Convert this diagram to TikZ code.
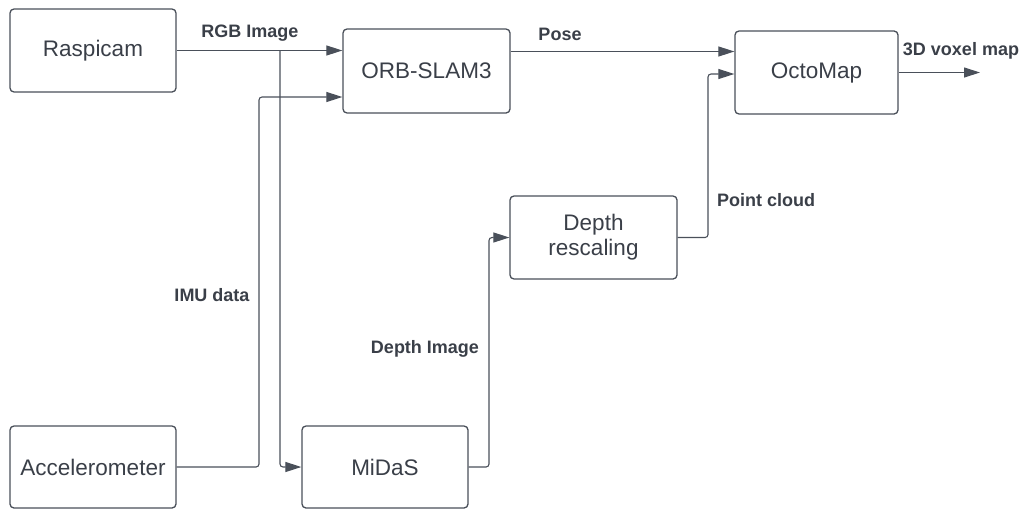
\documentclass[tikz,border=0pt]{standalone}
\usepackage{fontspec}
\setmainfont{Liberation Sans}
\usetikzlibrary{arrows.meta}
\definecolor{linec}{HTML}{4A505A}
\definecolor{textc}{HTML}{3A3F48}
\tikzset{
  blk/.style={draw=linec, line width=1.3pt, rounded corners=4pt, fill=white, text=textc,
    font=\fontsize{22.5}{25}\selectfont, inner sep=0pt, align=center},
  lbl/.style={text=textc, font=\bfseries\fontsize{18}{21}\selectfont, inner sep=0pt},
  conn/.style={draw=linec, line width=1.1pt, rounded corners=3pt,
    -{Triangle[length=16pt,width=10pt]}},
  plain/.style={draw=linec, line width=1.1pt, rounded corners=3pt}
}
\begin{document}
\begin{tikzpicture}[x=1pt,y=-1pt]
\useasboundingbox (0,0) rectangle (1032,509);
\node[blk, minimum width=166pt, minimum height=83pt] (ras) at (93,50.5) {Raspicam};
\node[blk, minimum width=167pt, minimum height=84pt] (orb) at (426.5,71) {ORB-SLAM3};
\node[blk, minimum width=163pt, minimum height=83pt] (octo) at (816.5,72.5) {OctoMap};
\node[blk, minimum width=166pt, minimum height=82pt] (acc) at (93,467) {Accelerometer};
\node[blk, minimum width=166pt, minimum height=82pt] (midas) at (385,467) {MiDaS};
\node[blk, minimum width=167pt, minimum height=83pt] (depth) at (593.5,237.5) {Depth\\rescaling};

\coordinate (b1) at (280,50.5);
\coordinate (b2) at (259,467);
\coordinate (b3) at (489,467);
\coordinate (b4) at (708,237.5);
\coordinate (out) at (980,72.5);

\draw[conn] (ras.east) -- (ras.east -| orb.west);
\draw[conn] (b1) |- (midas.west);
\draw[conn] (acc.east) -- (b2) |- ([yshift=-26pt]orb.west);
\draw[conn] ([yshift=19.5pt]orb.east) -- ([yshift=19.5pt]orb.east -| octo.west);
\draw[conn] (midas.east) -- (b3) |- (depth.west);
\draw[conn] (depth.east) -- (b4) |- ([yshift=-1.5pt]octo.west);
\draw[conn] (octo.east) -- (out);

\node[lbl] (l1) at (250,33) {RGB Image};
\node[lbl] (l2) at (560,34) {Pose};
\node[lbl] (l3) at (961,51) {3D voxel map};
\node[lbl] (l4) at (766,200) {Point cloud};
\node[lbl] (l5) at (212,295) {IMU data};
\node[lbl] (l6) at (425,349) {Depth Image};
\end{tikzpicture}
\end{document}
